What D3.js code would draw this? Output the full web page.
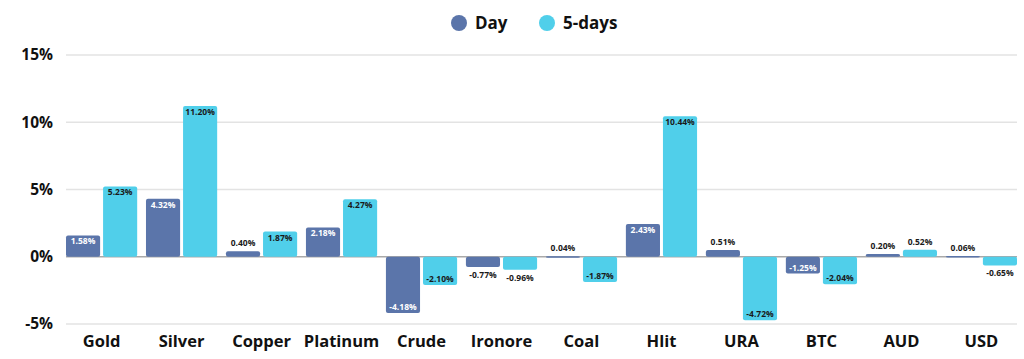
<!DOCTYPE html>
<html>
<head>
<meta charset="utf-8">
<script src="https://cdn.jsdelivr.net/npm/d3@7"></script>
<style>
  body { margin: 0; background: #fff; }
  text { font-family: "Open Sans", "DejaVu Sans", sans-serif; }
</style>
</head>
<body>
<script>
// chart data
var categories = ["Gold", "Silver", "Copper", "Platinum", "Crude", "Ironore", "Coal", "Hlit", "URA", "BTC", "AUD", "USD"];
var dayValues = [1.58, 4.32, 0.40, 2.18, -4.18, -0.77, 0.04, 2.43, 0.51, -1.25, 0.20, 0.06];
var fiveDayValues = [5.23, 11.20, 1.87, 4.27, -2.10, -0.96, -1.87, 10.44, -4.72, -2.04, 0.52, -0.65];
var seriesNames = ["Day", "5-days"];
var yTicks = [-5, 0, 5, 10, 15];

var width = 1024, height = 359;
var margin = {left: 66, right: 7, top: 55, bottom: 35};

var colors = {"Day": "#5b75aa", "5-days": "#50cfea"};

var svg = d3.select("body").append("svg")
    .attr("width", width)
    .attr("height", height);

var x = d3.scaleBand()
    .domain(categories)
    .range([margin.left, width - margin.right])
    .paddingInner(0.11)
    .paddingOuter(0);

var xSub = d3.scaleBand()
    .domain(seriesNames)
    .range([0, x.bandwidth()])
    .paddingInner(0.08);

var y = d3.scaleLinear()
    .domain([-5, 15])
    .range([height - margin.bottom, margin.top]);

// gridlines
svg.append("g")
    .selectAll("line")
    .data(yTicks)
    .enter().append("line")
    .attr("x1", margin.left)
    .attr("x2", width - margin.right)
    .attr("y1", function(d) { return y(d); })
    .attr("y2", function(d) { return y(d); })
    .attr("stroke", function(d) { return d == 0 ? "#a9a9a9" : "#e3e3e3"; })
    .attr("stroke-width", 1.5);

// y axis labels
svg.append("g")
    .selectAll("text")
    .data(yTicks)
    .enter().append("text")
    .attr("x", 53)
    .attr("y", function(d) { return y(d); })
    .attr("dy", "0.35em")
    .attr("text-anchor", "end")
    .attr("font-size", 15.5)
    .attr("font-weight", "bold")
    .attr("fill", "#111")
    .text(function(d) { return d + "%"; });

// x axis labels
svg.append("g")
    .selectAll("text")
    .data(categories)
    .enter().append("text")
    .attr("x", function(d) { return x(d) + x.bandwidth() / 2; })
    .attr("y", 341)
    .attr("dy", "0.35em")
    .attr("text-anchor", "middle")
    .attr("font-size", 16.5)
    .attr("font-weight", "bold")
    .attr("fill", "#111")
    .text(function(d) { return d; });

var rows = [];
categories.forEach(function(c, i) {
    rows.push({cat: c, series: "Day", value: dayValues[i]});
    rows.push({cat: c, series: "5-days", value: fiveDayValues[i]});
});

var groups = svg.append("g")
    .selectAll("g")
    .data(rows)
    .enter().append("g")
    .attr("transform", function(d) { return "translate(" + (x(d.cat) + xSub(d.series)) + ",0)"; });

groups.append("rect")
    .attr("x", 0)
    .attr("width", xSub.bandwidth())
    .attr("y", function(d) { return y(Math.max(0, d.value)); })
    .attr("height", function(d) { return Math.max(1.5, Math.abs(y(d.value) - y(0))); })
    .attr("rx", 2)
    .attr("fill", function(d) { return colors[d.series]; });

// value labels: inside the bar end when the bar is tall enough, outside otherwise
groups.append("text")
    .attr("x", xSub.bandwidth() / 2)
    .attr("y", function(d) {
        var inside = Math.abs(d.value) >= 1;
        if (d.value >= 0) return inside ? y(d.value) + 6 : y(d.value) - 8;
        return inside ? y(d.value) - 6 : y(d.value) + 8;
    })
    .attr("dy", "0.35em")
    .attr("text-anchor", "middle")
    .attr("font-size", 8.5)
    .attr("font-weight", "bold")
    .attr("fill", function(d) {
        var inside = Math.abs(d.value) >= 1;
        return (inside && d.series == "Day") ? "#fff" : "#1a1a1a";
    })
    .text(function(d) { return d.value.toFixed(2) + "%"; });

// legend
var legend = svg.append("g")
    .selectAll("g")
    .data(seriesNames)
    .enter().append("g")
    .attr("transform", function(d, i) { return "translate(" + (459 + i * 88) + ",23)"; });

legend.append("circle")
    .attr("r", 8)
    .attr("fill", function(d) { return colors[d]; });

legend.append("text")
    .attr("x", 16)
    .attr("dy", "0.35em")
    .attr("font-size", 17)
    .attr("font-weight", "bold")
    .attr("fill", "#111")
    .text(function(d) { return d; });
</script>
</body>
</html>
